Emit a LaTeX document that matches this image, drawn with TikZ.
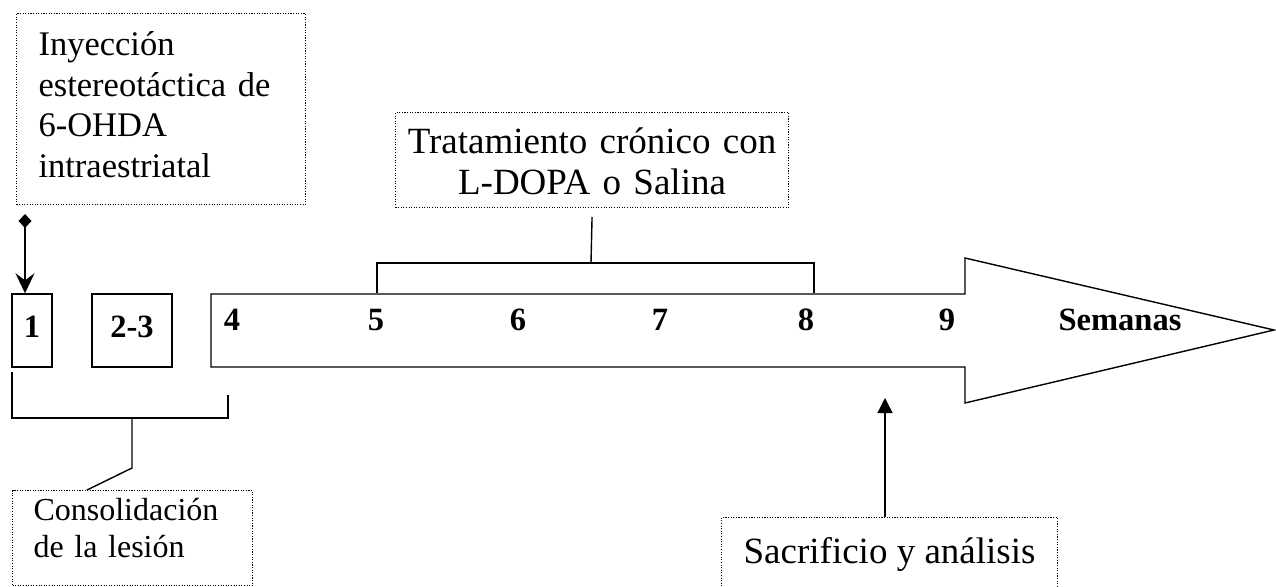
\documentclass[tikz,border=0pt]{standalone}
\usepackage{fontspec}
\setmainfont{Liberation Serif}
\usetikzlibrary{arrows.meta}
\begin{document}
\begin{tikzpicture}[x=1pt,y=-1pt,
  line/.style={line width=1.4pt},
  notebox/.style={draw, line width=1.1pt, dash pattern=on 1.1pt off 1.5pt,
    inner sep=0pt, anchor=north west},
  weekbox/.style={draw, line width=1.4pt, inner sep=0pt,
    font=\fontsize{32.5}{32.5}\selectfont\bfseries, text height=22pt, text depth=8pt},
  week/.style={anchor=base, inner sep=0pt, font=\fontsize{32.5}{32.5}\selectfont\bfseries}]
\useasboundingbox (0,0) rectangle (1276,586);
\clip (0,0) rectangle (1276,586);

% note boxes
\node[notebox, minimum width=289pt, minimum height=191pt, inner xsep=22pt,
  text width=245pt, align=left, text height=30pt, text depth=137pt,
  font=\fontsize{34.5}{40.5}\selectfont] (inj) at (16,13)
  {Inyección\\ estereotáctica de\\ 6-OHDA\\ intraestriatal};
\node[notebox, minimum width=393pt, minimum height=95pt, text width=393pt,
  align=center, text height=30pt, text depth=43pt,
  font=\fontsize{37}{41}\selectfont] (trat) at (395,112)
  {Tratamiento crónico con\\ L-DOPA o Salina};
\node[notebox, minimum width=240pt, minimum height=95pt, inner xsep=21pt,
  text width=198pt, align=left, text height=30pt, text depth=65pt,
  font=\fontsize{32}{37}\selectfont] (cons) at (12,490)
  {Consolidación\\ de la lesión};
\node[notebox, minimum width=336pt, minimum height=100pt,
  text height=30pt, text depth=38pt,
  font=\fontsize{37}{42}\selectfont] (sacr) at (721,517)
  {Sacrificio y análisis};

% first weeks
\node[weekbox, minimum width=40pt, minimum height=73pt] (w1) at (32,330.5) {1};
\node[weekbox, minimum width=80pt, minimum height=73pt] (w23) at (132,330.5) {2-3};

% time arrow
\draw[line, line join=miter] (211,294) -- (965,294) -- (965,258) -- (1274,330)
  -- (965,403) -- (965,367) -- (211,367) -- cycle;
\node[week] (w4) at (232,330) {4};
\node[week] (w5) at (376,330) {5};
\node[week] (w6) at (518,330) {6};
\node[week] (w7) at (660,330) {7};
\node[week] (w8) at (806,330) {8};
\node[week] (w9) at (947,330) {9};
\node[week] (sem) at (1120,330) {Semanas};

% injection marker
\coordinate (injstart) at (25,214);
\draw[line, {Diamond[length=14pt,width=13pt]}-{Stealth[length=20pt,width=19pt,inset=7pt]}]
  (injstart) -- (injstart |- w1.north);

% lesion bracket
\coordinate (lesL) at (12,372);
\coordinate (lesR) at (228,395);
\coordinate (lesM) at (132,418);
\draw[line] (lesL) |- (lesR |- lesM) -- (lesR);
\draw[line] (lesM) -- (132,468) -- (cons.north west -| 87,0);

% treatment bracket
\coordinate (tL) at (377,293);
\coordinate (tR) at (814,293);
\coordinate (tM) at (591,263);
\draw[line] (tL) |- (tM) -| (tR);
\draw[line] (tM) -- (trat.south |- 0,217);

% sacrifice arrow
\coordinate (sacrtip) at (885,398);
\draw[line, -{Triangle[length=15pt,width=15pt]}] (sacr.north -| sacrtip) -- (sacrtip);
\end{tikzpicture}
\end{document}
